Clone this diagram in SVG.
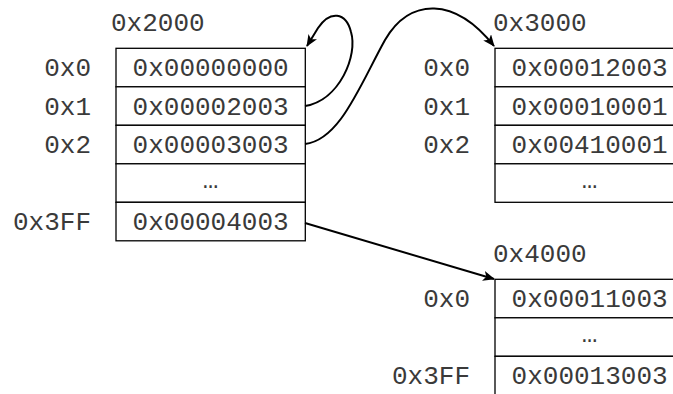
<svg xmlns="http://www.w3.org/2000/svg" width="673" height="394" viewBox="0 0 673 394">
<style>
text{font-family:"Liberation Mono","Courier New",monospace;font-size:26px;fill:#3a3a3a}
.c{text-anchor:middle}
.e{text-anchor:end}
rect{fill:#fff;stroke:#000;stroke-width:1.3}
.conn path{fill:none;stroke:#000;stroke-width:2}
</style>
<defs>
<marker id="ah" viewBox="0 0 12 10" refX="11" refY="5" markerWidth="12" markerHeight="10" markerUnits="userSpaceOnUse" orient="auto">
<path d="M0,0 L12,5 L0,10 L3,5 Z" fill="#000"/>
</marker>
</defs>
<rect x="0" y="0" width="673" height="394" style="stroke:none"/>
<g id="table2000">
<text x="111" y="31">0x2000</text>
<rect x="116" y="48.3" width="189.3" height="38.5"/>
<rect x="116" y="86.8" width="189.3" height="38.5"/>
<rect x="116" y="125.3" width="189.3" height="38.5"/>
<rect x="116" y="163.8" width="189.3" height="38.5"/>
<rect x="116" y="202.3" width="189.3" height="38.5"/>
<text class="e" x="91" y="76.3">0x0</text>
<text class="e" x="91" y="114.8">0x1</text>
<text class="e" x="91" y="153.3">0x2</text>
<text class="e" x="91" y="230.3">0x3FF</text>
<text class="c" x="210.6" y="76.3">0x00000000</text>
<text class="c" x="210.6" y="114.8">0x00002003</text>
<text class="c" x="210.6" y="153.3">0x00003003</text>
<text class="c" x="210.6" y="188">…</text>
<text class="c" x="210.6" y="230.3">0x00004003</text>
</g>
<g id="table3000">
<text x="493" y="31">0x3000</text>
<rect x="495" y="48.3" width="189.3" height="38.5"/>
<rect x="495" y="86.8" width="189.3" height="38.5"/>
<rect x="495" y="125.3" width="189.3" height="38.5"/>
<rect x="495" y="163.8" width="189.3" height="38.5"/>
<text class="e" x="470" y="76.3">0x0</text>
<text class="e" x="470" y="114.8">0x1</text>
<text class="e" x="470" y="153.3">0x2</text>
<text class="c" x="589.6" y="76.3">0x00012003</text>
<text class="c" x="589.6" y="114.8">0x00010001</text>
<text class="c" x="589.6" y="153.3">0x00410001</text>
<text class="c" x="589.6" y="188">…</text>
</g>
<g id="table4000">
<text x="493" y="262">0x4000</text>
<rect x="495" y="279.3" width="189.3" height="38.5"/>
<rect x="495" y="317.8" width="189.3" height="38.5"/>
<rect x="495" y="356.3" width="189.3" height="38.5"/>
<text class="e" x="470" y="307.3">0x0</text>
<text class="e" x="470" y="384.3">0x3FF</text>
<text class="c" x="589.6" y="307.3">0x00011003</text>
<text class="c" x="589.6" y="342">…</text>
<text class="c" x="589.6" y="384.3">0x00013003</text>
</g>
<g class="conn" id="connectors">
<path d="M305,106 C340,100 358,55 351,32 C346,12 330,10 318,28 L307,46" marker-end="url(#ah)"/>
<path d="M305,144 C340,140 360,85 385,40 C410,-3 455,-3 494,46" marker-end="url(#ah)"/>
<path d="M305,223 L494,279" marker-end="url(#ah)"/>
</g>
</svg>
